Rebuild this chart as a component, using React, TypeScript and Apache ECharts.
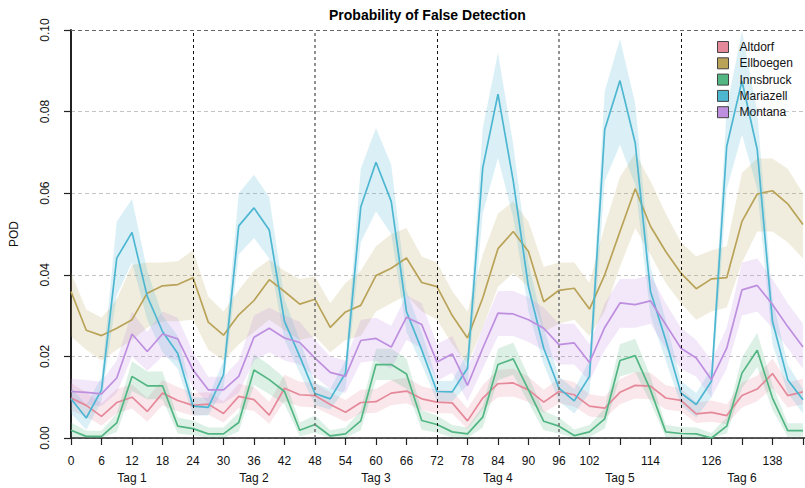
import React, { useEffect, useRef } from 'react';
import * as echarts from 'echarts';

const hours = [0, 3, 6, 9, 12, 15, 18, 21, 24, 27, 30, 33, 36, 39, 42, 45, 48, 51, 54, 57, 60, 63, 66, 69, 72, 75, 78, 81, 84, 87, 90, 93, 96, 99, 102, 105, 108, 111, 114, 117, 120, 123, 126, 129, 132, 135, 138, 141, 144];
const dayLines = [24, 48, 72, 96, 120];
const tagCenters = [12, 36, 60, 84, 108, 132];
const tagLabels = ['Tag 1', 'Tag 2', 'Tag 3', 'Tag 4', 'Tag 5', 'Tag 6'];
const hiddenHourLabels = [108, 120, 132, 144];
const yTicks = [0, 0.02, 0.04, 0.06, 0.08, 0.1];

const stations = ['Altdorf', 'Ellboegen', 'Innsbruck', 'Mariazell', 'Montana'];
const colors = ['#E5899A', '#B8A358', '#52B683', '#4DB6D1', '#BE8EDF'];

const altdorf = [0.0098, 0.008, 0.0053, 0.0087, 0.01, 0.0065, 0.011, 0.0092, 0.008, 0.0083, 0.006, 0.0102, 0.0094, 0.0056, 0.0122, 0.0106, 0.0104, 0.0082, 0.0063, 0.0087, 0.0089, 0.011, 0.0115, 0.0096, 0.0088, 0.0086, 0.0042, 0.0098, 0.0133, 0.0135, 0.0118, 0.0088, 0.0114, 0.0106, 0.0078, 0.0073, 0.0112, 0.0129, 0.0127, 0.0098, 0.0092, 0.0059, 0.0063, 0.0055, 0.0104, 0.012, 0.0158, 0.0104, 0.0113];
const altdorfLo = [0.0068, 0.0052, 0.003, 0.006, 0.0072, 0.004, 0.008, 0.0065, 0.0055, 0.0057, 0.0038, 0.0073, 0.0066, 0.0035, 0.009, 0.0077, 0.0075, 0.0057, 0.004, 0.006, 0.0062, 0.008, 0.0085, 0.0068, 0.0061, 0.006, 0.0022, 0.007, 0.01, 0.0102, 0.0088, 0.0061, 0.0085, 0.0077, 0.0053, 0.0049, 0.0083, 0.0097, 0.0095, 0.007, 0.0065, 0.0037, 0.004, 0.0034, 0.0075, 0.009, 0.0123, 0.0075, 0.0083];
const altdorfHi = [0.0135, 0.0112, 0.0085, 0.012, 0.0132, 0.0098, 0.0142, 0.0125, 0.011, 0.0113, 0.009, 0.0133, 0.0125, 0.0088, 0.0155, 0.0138, 0.0135, 0.0112, 0.0093, 0.0118, 0.012, 0.0142, 0.0148, 0.0127, 0.0118, 0.0116, 0.0072, 0.013, 0.0167, 0.017, 0.015, 0.0118, 0.0146, 0.0137, 0.0107, 0.0102, 0.0144, 0.0162, 0.016, 0.0129, 0.0122, 0.0087, 0.0092, 0.0083, 0.0136, 0.0153, 0.0195, 0.0136, 0.0146];

const ellboegen = [0.0359, 0.0264, 0.0251, 0.0269, 0.029, 0.0355, 0.0373, 0.0376, 0.0393, 0.0284, 0.0252, 0.0302, 0.0337, 0.0388, 0.0359, 0.0328, 0.034, 0.0271, 0.0309, 0.0325, 0.0398, 0.0416, 0.0441, 0.0381, 0.0371, 0.03, 0.0245, 0.0343, 0.0464, 0.0506, 0.0457, 0.0334, 0.0362, 0.0367, 0.0316, 0.04, 0.0506, 0.0611, 0.0519, 0.0457, 0.0404, 0.0366, 0.039, 0.0393, 0.0531, 0.0598, 0.0606, 0.0574, 0.0523];
const ellboegenLo = [0.0249, 0.0216, 0.019, 0.0216, 0.024, 0.027, 0.0286, 0.0286, 0.029, 0.0216, 0.019, 0.0229, 0.026, 0.029, 0.0265, 0.024, 0.0249, 0.021, 0.024, 0.025, 0.031, 0.033, 0.035, 0.031, 0.029, 0.023, 0.018, 0.027, 0.037, 0.0404, 0.037, 0.026, 0.028, 0.029, 0.025, 0.031, 0.042, 0.0515, 0.045, 0.038, 0.033, 0.029, 0.031, 0.032, 0.043, 0.0506, 0.0506, 0.048, 0.044];
const ellboegenHi = [0.0405, 0.0315, 0.0295, 0.034, 0.0424, 0.043, 0.043, 0.0433, 0.046, 0.0347, 0.031, 0.0363, 0.041, 0.0437, 0.041, 0.039, 0.0396, 0.033, 0.038, 0.041, 0.047, 0.05, 0.0515, 0.0445, 0.043, 0.036, 0.031, 0.045, 0.055, 0.058, 0.053, 0.042, 0.043, 0.043, 0.038, 0.052, 0.064, 0.0698, 0.063, 0.055, 0.048, 0.0445, 0.046, 0.047, 0.065, 0.0685, 0.0685, 0.066, 0.06];

const innsbruck = [0.0019, 0.0004, 0.0004, 0.0037, 0.0151, 0.0128, 0.0128, 0.0029, 0.0023, 0.001, 0.001, 0.0038, 0.0167, 0.0143, 0.0114, 0.0019, 0.0033, 0.0005, 0.001, 0.0042, 0.018, 0.018, 0.0157, 0.0043, 0.0033, 0.0015, 0.001, 0.0051, 0.018, 0.0194, 0.0118, 0.0041, 0.0029, 0.0006, 0.0015, 0.0047, 0.019, 0.0202, 0.0118, 0.0015, 0.0011, 0.001, 0.0, 0.0029, 0.0159, 0.0215, 0.0098, 0.0018, 0.0018];
const innsbruckLo = [0.0003, 0, 0, 0.0015, 0.0115, 0.0095, 0.0095, 0.0011, 0.0007, 0, 0, 0.0016, 0.013, 0.0108, 0.0083, 0.0004, 0.0013, 0, 0, 0.0019, 0.0142, 0.0142, 0.0121, 0.002, 0.0013, 0.0002, 0, 0.0026, 0.0142, 0.0155, 0.0087, 0.0019, 0.0011, 0, 0.0002, 0.0023, 0.0151, 0.0162, 0.0087, 0.0002, 0, 0, 0, 0.0011, 0.0122, 0.0174, 0.0069, 0.0003, 0.0003];
const innsbruckHi = [0.0038, 0.0018, 0.0018, 0.006, 0.0188, 0.0163, 0.0163, 0.005, 0.0043, 0.0026, 0.0026, 0.0062, 0.0205, 0.0179, 0.0147, 0.0038, 0.0055, 0.0019, 0.0026, 0.0067, 0.0219, 0.0219, 0.0194, 0.0068, 0.0055, 0.0032, 0.0026, 0.0078, 0.0219, 0.0234, 0.0151, 0.0066, 0.005, 0.0021, 0.0032, 0.0073, 0.023, 0.0243, 0.0151, 0.0032, 0.0027, 0.0026, 0.0012, 0.005, 0.0197, 0.0258, 0.013, 0.0036, 0.0036];

const mariazell = [0.0096, 0.0049, 0.0118, 0.0441, 0.0504, 0.0347, 0.0261, 0.0207, 0.0078, 0.0075, 0.0155, 0.052, 0.0564, 0.051, 0.0286, 0.02, 0.0109, 0.0096, 0.0159, 0.0566, 0.0676, 0.058, 0.031, 0.0216, 0.0114, 0.0113, 0.0171, 0.0662, 0.0843, 0.063, 0.037, 0.022, 0.0122, 0.0091, 0.0151, 0.0756, 0.0876, 0.0723, 0.0359, 0.024, 0.011, 0.0082, 0.0139, 0.0715, 0.0875, 0.0707, 0.0286, 0.0143, 0.0094];
const mariazellLo = [0.006, 0.002, 0.009, 0.035, 0.043, 0.029, 0.021, 0.017, 0.0055, 0.0055, 0.012, 0.045, 0.049, 0.044, 0.024, 0.016, 0.008, 0.007, 0.012, 0.048, 0.0555, 0.05, 0.026, 0.018, 0.009, 0.009, 0.013, 0.055, 0.0686, 0.054, 0.031, 0.018, 0.009, 0.006, 0.011, 0.063, 0.0719, 0.062, 0.03, 0.019, 0.008, 0.005, 0.01, 0.061, 0.0743, 0.061, 0.023, 0.011, 0.006];
const mariazellHi = [0.0125, 0.008, 0.015, 0.053, 0.0586, 0.041, 0.03, 0.025, 0.01, 0.0098, 0.019, 0.06, 0.0645, 0.059, 0.034, 0.024, 0.0135, 0.012, 0.019, 0.066, 0.076, 0.067, 0.036, 0.026, 0.014, 0.014, 0.021, 0.076, 0.0944, 0.072, 0.043, 0.027, 0.015, 0.012, 0.019, 0.085, 0.0978, 0.082, 0.042, 0.029, 0.014, 0.011, 0.017, 0.081, 0.0997, 0.08, 0.034, 0.018, 0.012];

const montana = [0.0114, 0.0112, 0.0108, 0.0147, 0.0255, 0.0212, 0.0255, 0.0243, 0.0167, 0.0118, 0.0118, 0.0151, 0.0247, 0.0269, 0.0245, 0.0234, 0.0196, 0.0161, 0.0151, 0.0239, 0.0244, 0.0223, 0.0296, 0.0278, 0.0186, 0.0206, 0.0129, 0.022, 0.0306, 0.0304, 0.029, 0.0269, 0.0229, 0.0233, 0.0185, 0.0271, 0.0331, 0.0327, 0.0336, 0.0278, 0.022, 0.0196, 0.0143, 0.022, 0.0363, 0.0374, 0.0327, 0.0273, 0.0223];
const montanaLo = [0.0085, 0.0082, 0.0078, 0.011, 0.02, 0.0165, 0.02, 0.019, 0.0125, 0.0085, 0.0085, 0.011, 0.019, 0.021, 0.019, 0.018, 0.015, 0.012, 0.011, 0.0185, 0.019, 0.017, 0.024, 0.022, 0.014, 0.016, 0.009, 0.017, 0.025, 0.025, 0.0235, 0.0215, 0.018, 0.018, 0.014, 0.0215, 0.027, 0.027, 0.028, 0.022, 0.017, 0.015, 0.01, 0.017, 0.03, 0.031, 0.027, 0.022, 0.017];
const montanaHi = [0.0145, 0.0142, 0.0138, 0.019, 0.031, 0.026, 0.031, 0.0295, 0.021, 0.015, 0.015, 0.019, 0.03, 0.032, 0.03, 0.0285, 0.024, 0.02, 0.019, 0.029, 0.0295, 0.0275, 0.035, 0.033, 0.023, 0.025, 0.017, 0.027, 0.036, 0.036, 0.0345, 0.032, 0.028, 0.028, 0.023, 0.033, 0.039, 0.039, 0.04, 0.033, 0.027, 0.024, 0.019, 0.027, 0.043, 0.044, 0.039, 0.033, 0.028];

const values = [altdorf, ellboegen, innsbruck, mariazell, montana];
const lows = [altdorfLo, ellboegenLo, innsbruckLo, mariazellLo, montanaLo];
const highs = [altdorfHi, ellboegenHi, innsbruckHi, mariazellHi, montanaHi];

const FONT = '"Liberation Sans", Arial, Helvetica, sans-serif';

export default function App() {
  const ref = useRef<HTMLDivElement>(null);
  useEffect(() => {
    if (!ref.current) return;
    const chart = echarts.init(ref.current, null, { renderer: 'svg' });

    const bandSeries = stations.map((name, s) => ({
      type: 'custom',
      name: name + ' band',
      silent: true,
      z: 1,
      clip: true,
      data: [[0, 0]],
      renderItem: (params: any, api: any) => {
        const pts: number[][] = [];
        for (let i = 0; i < hours.length; i++) pts.push(api.coord([hours[i], highs[s][i]]));
        for (let i = hours.length - 1; i >= 0; i--) pts.push(api.coord([hours[i], lows[s][i]]));
        return {
          type: 'polygon',
          shape: { points: pts },
          style: { fill: colors[s], opacity: 0.2 },
        };
      },
    }));

    const lineSeries: any[] = stations.map((name, s) => ({
      type: 'line',
      name,
      data: hours.map((h, i) => [h, values[s][i]]),
      showSymbol: false,
      symbol: 'none',
      z: 3,
      lineStyle: { color: colors[s], width: 1.7 },
      itemStyle: { color: colors[s] },
    }));

    lineSeries[0].markLine = {
      silent: true,
      symbol: ['none', 'none'],
      label: { show: false },
      animation: false,
      data: [
        ...dayLines.map((d) => ({
          xAxis: d,
          lineStyle: {
            color: d === 48 || d === 96 ? '#777' : '#111',
            width: d === 48 || d === 96 ? 1.6 : 1,
            type: [3, 3],
          },
        })),
        { yAxis: 0.1, lineStyle: { color: '#666', width: 1, type: [4, 3] } },
      ],
    };

    chart.setOption({
      animation: false,
      backgroundColor: '#ffffff',
      textStyle: { fontFamily: FONT },
      title: {
        text: 'Probability of False Detection',
        left: 324,
        top: 3,
        textStyle: { fontFamily: FONT, fontSize: 14, fontWeight: 'bold', color: '#000' },
      },
      legend: {
        orient: 'vertical',
        left: 717,
        top: 41,
        padding: 0,
        itemWidth: 11,
        itemHeight: 11,
        itemGap: 4.3,
        icon: 'rect',
        data: stations,
        itemStyle: { borderColor: '#444', borderWidth: 1 },
        textStyle: { fontFamily: FONT, fontSize: 12, color: '#111', padding: [0, 0, 0, 6] },
      },
      grid: { left: 71, right: 0, top: 30, bottom: 50, containLabel: false, outerBoundsMode: 'none' },
      xAxis: [
        {
          type: 'value',
          min: 0,
          max: 144.4,
          interval: 6,
          axisLine: { show: true, onZero: false, lineStyle: { color: '#222', width: 1.5 } },
          axisTick: { show: true, length: 7, lineStyle: { color: '#222', width: 1.2 } },
          axisLabel: {
            fontFamily: FONT,
            fontSize: 12,
            color: '#111',
            margin: 17,
            showMaxLabel: false,
            formatter: (v: number) => (hiddenHourLabels.indexOf(v) >= 0 ? '' : String(v)),
          },
          splitLine: { show: false },
        },
        {
          type: 'value',
          position: 'bottom',
          min: 0,
          max: 144.4,
          axisLine: { show: false },
          axisTick: { show: false },
          splitLine: { show: false },
          axisLabel: {
            fontFamily: FONT,
            fontSize: 12,
            color: '#111',
            margin: 34,
            customValues: tagCenters,
            formatter: (v: number) => tagLabels[tagCenters.indexOf(v)] || '',
          },
        },
      ],
      yAxis: {
        type: 'value',
        min: 0,
        max: 0.1,
        interval: 0.02,
        name: 'POD',
        nameLocation: 'middle',
        nameGap: 51,
        nameTextStyle: { fontFamily: FONT, fontSize: 12, color: '#111' },
        axisLine: { show: true, lineStyle: { color: '#222', width: 2 } },
        axisTick: { show: true, length: 7, lineStyle: { color: '#222', width: 1.2 } },
        axisLabel: {
          fontFamily: FONT,
          fontSize: 12,
          color: '#111',
          rotate: 90,
          margin: 20,
          formatter: (v: number) => {
            const t = yTicks.find((y) => Math.abs(y - v) < 1e-9);
            return t === undefined ? '' : t.toFixed(2);
          },
        },
        splitLine: { show: true, lineStyle: { color: '#c4c4c4', width: 1, type: [4, 3] } },
      },
      series: [...bandSeries, ...lineSeries],
    });

    return () => chart.dispose();
  }, []);

  return <div ref={ref} style={{ position: 'fixed', left: 0, top: 0, width: 805, height: 488 }} />;
}
